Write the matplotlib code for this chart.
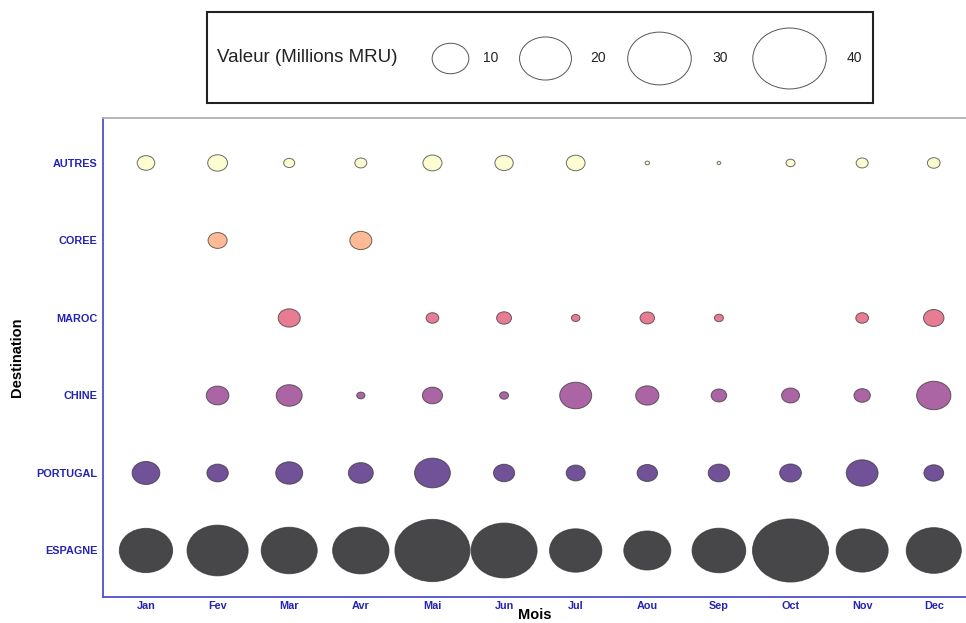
import numpy as np
import matplotlib
matplotlib.use("Agg")
import matplotlib.pyplot as plt
from matplotlib.path import Path
from matplotlib.transforms import Affine2D
from matplotlib.patches import Rectangle

plt.rcParams['font.family'] = ['Liberation Sans', 'DejaVu Sans']

# donnees (Millions MRU), nan = pas de valeur
mois = ['Jan', 'Fev', 'Mar', 'Avr', 'Mai', 'Jun', 'Jul', 'Aou', 'Sep', 'Oct', 'Nov', 'Dec']
destinations = ['ESPAGNE', 'PORTUGAL', 'CHINE', 'MAROC', 'COREE', 'AUTRES']
nan = np.nan
espagne = [21.1, 27.7, 23.3, 23.6, 41.8, 32.4, 20.3, 16.4, 21.4, 42.9, 20.1, 22.5]
portugal = [5.7, 3.4, 5.4, 4.6, 9.5, 3.3, 2.7, 3.1, 3.4, 3.5, 7.5, 2.9]
chine = [nan, 3.8, 5.0, 0.5, 3.0, 0.6, 7.6, 4.0, 1.8, 2.4, 2.0, 8.7]
maroc = [nan, nan, 3.6, nan, 1.2, 1.65, 0.54, 1.56, 0.6, nan, 1.2, 3.1]
coree = [nan, 2.7, nan, 3.6, nan, nan, nan, nan, nan, nan, nan, nan]
autres = [2.3, 2.9, 0.9, 1.07, 2.7, 2.5, 2.6, 0.14, 0.1, 0.6, 1.07, 1.2]
legende_valeurs = [10, 20, 30, 40]

valeurs = [espagne, portugal, chine, maroc, coree, autres]

# echelle de taille : aire proportionnelle a la valeur
k = 69.8
# l'image d'origine est etiree horizontalement -> marqueur ellipse
ell = Path.unit_circle().transformed(Affine2D().scale(1.0, 0.83))

cmap = plt.get_cmap('magma')
couleurs = [cmap(i / 5) for i in range(6)]

fig = plt.figure(figsize=(9.66, 6.23), dpi=100)
ax = fig.add_axes([103 / 966, 26 / 623, 863 / 966, 479 / 623])

for j, (dest, vals) in enumerate(zip(destinations, valeurs)):
    vals = np.array(vals, dtype=float)
    ok = ~np.isnan(vals)
    x = np.arange(len(mois))[ok]
    ax.scatter(x, np.full(x.size, j), s=vals[ok] * k, marker=ell,
               color=couleurs[j], alpha=0.72, edgecolors='#333333',
               linewidths=0.7, zorder=3)

ax.set_xlim(-0.6, 11.45)
ax.set_ylim(-0.6, 5.58)
ax.set_xticks(range(len(mois)))
ax.set_xticklabels(mois)
ax.set_yticks(range(len(destinations)))
ax.set_yticklabels(destinations)
ax.tick_params(length=0, labelsize=7.8, labelcolor='#2323b4')
ax.tick_params(axis='x', pad=3)
ax.tick_params(axis='y', pad=4)
for lab in ax.get_xticklabels() + ax.get_yticklabels():
    lab.set_fontweight('bold')

ax.spines['left'].set_color('#5050c8')
ax.spines['bottom'].set_color('#5050c8')
ax.spines['left'].set_linewidth(1.3)
ax.spines['bottom'].set_linewidth(1.3)
ax.spines['top'].set_color('#b0b0b0')
ax.spines['top'].set_linewidth(1.3)
ax.spines['right'].set_visible(False)

ax.set_xlabel('Mois', fontsize=10.5, fontweight='bold', va='bottom')
ax.xaxis.set_label_coords(0.5, -0.053)
ax.set_ylabel('Destination', fontsize=10.5, fontweight='bold', labelpad=9)

# legende des tailles
lax = fig.add_axes([207 / 966, 1 - 103 / 623, 666 / 966, 91 / 623])
lax.set_xlim(0, 666)
lax.set_ylim(0, 91)
lax.axis('off')
lax.add_patch(Rectangle((0, 0), 666, 91, fill=False, edgecolor='#222222',
                        linewidth=1.5, clip_on=False))
lax.text(10, 45, 'Valeur (Millions MRU)', fontsize=13.5, va='center', ha='left',
         color='#222222')
pos_cercles = [243, 338, 452, 582]
pos_textes = [284, 391, 513, 647]
for v, xc, xt in zip(legende_valeurs, pos_cercles, pos_textes):
    lax.scatter([xc], [45], s=v * k, marker=ell, facecolor='white',
                edgecolors='#555555', linewidths=0.7, clip_on=False)
    lax.text(xt, 45, str(v), fontsize=10, va='center', ha='center', color='#222222')

fig.savefig('out.png', dpi=100)
